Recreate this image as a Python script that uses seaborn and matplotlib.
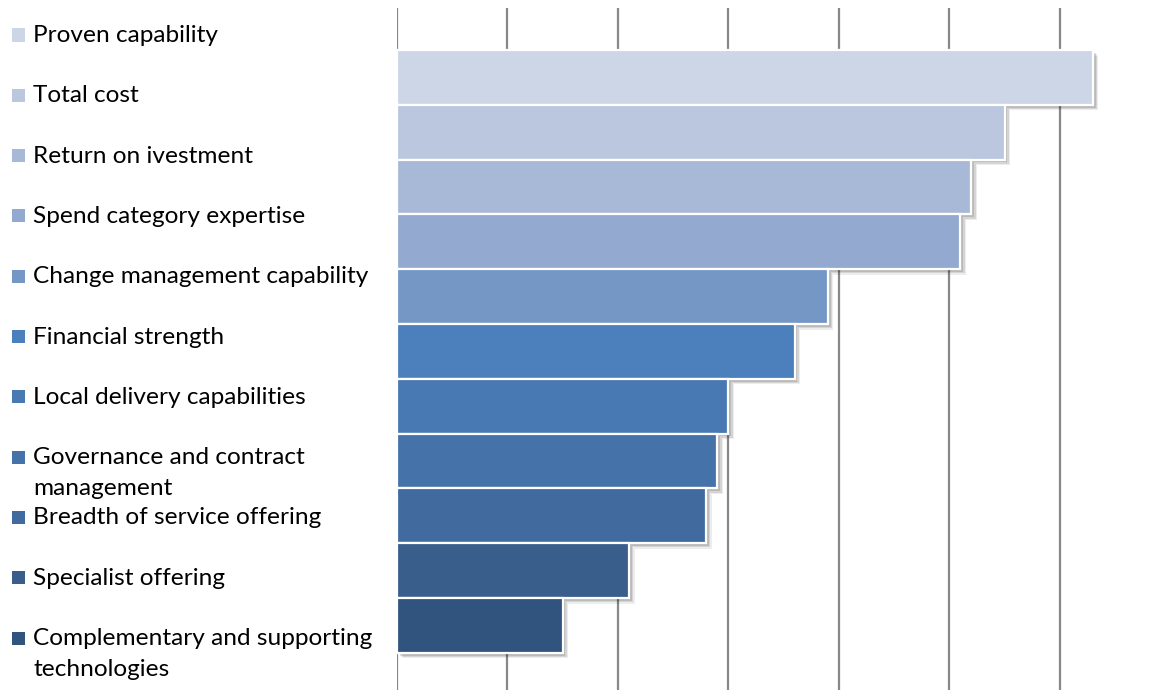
import matplotlib
matplotlib.use("Agg")
import matplotlib.pyplot as plt
import matplotlib.patheffects as pe
from matplotlib.patches import Rectangle
import seaborn as sns
import pandas as pd

categories = [
    "Proven capability",
    "Total cost",
    "Return on ivestment",
    "Spend category expertise",
    "Change management capability",
    "Financial strength",
    "Local delivery capabilities",
    "Governance and contract\nmanagement",
    "Breadth of service offering",
    "Specialist offering",
    "Complementary and supporting\ntechnologies",
]
values = [63, 55, 52, 51, 39, 36, 30, 29, 28, 21, 15]
colors = [
    "#CDD6E7", "#BAC7DF", "#A8B9D7", "#93A9CF", "#7597C5", "#4B80BC",
    "#4879B2", "#4573A9", "#416B9E", "#3A5E8C", "#30547D",
]
grid_ticks = [0, 10, 20, 30, 40, 50, 60]

df = pd.DataFrame({"category": categories, "value": values})

W, H = 1164, 690
sns.set_theme(style="white")
plt.rcParams["font.family"] = ["Lato", "DejaVu Sans"]

fig = plt.figure(figsize=(W / 100, H / 100), dpi=100)
ax_left, ax_right, ax_top, ax_bottom = 397, 1115, 8, 690
ax = fig.add_axes([ax_left / W, 1 - ax_bottom / H,
                   (ax_right - ax_left) / W, (ax_bottom - ax_top) / H])

sns.barplot(data=df, x="value", y="category", hue="category",
            palette=colors, order=categories, hue_order=categories,
            width=1.0, dodge=False, legend=False, saturation=1, ax=ax,
            edgecolor="white", linewidth=1.6, zorder=3)

# soft drop shadow below and to the right of each bar
for patch in ax.patches:
    patch.set_path_effects([
        pe.SimplePatchShadow(offset=(4, -4), alpha=0.07, shadow_rgbFace="#000000"),
        pe.SimplePatchShadow(offset=(3, -3), alpha=0.10, shadow_rgbFace="#000000"),
        pe.SimplePatchShadow(offset=(2, -2), alpha=0.12, shadow_rgbFace="#000000"),
        pe.Normal(),
    ])

ax.set_xlim(0, 65)
slot = 54.8
top_lim = -0.5 - (50 - ax_top) / slot
ax.set_ylim(top_lim + (ax_bottom - ax_top) / slot, top_lim)

for t in grid_ticks:
    ax.axvline(t, color="#888888", linewidth=1.6, zorder=1)

ax.set_xticks([])
ax.set_yticks([])
ax.set_xlabel("")
ax.set_ylabel("")
for s in ax.spines.values():
    s.set_visible(False)

# Legend column on the left: one evenly spaced row per category
row0, row_step, line_step = 35.5, 60.3, 31
for i, (label, col) in enumerate(zip(categories, colors)):
    yc = row0 + i * row_step
    fig.patches.append(Rectangle((12 / W, 1 - (yc + 6) / H), 13 / W, 13 / H,
                                 transform=fig.transFigure, facecolor=col,
                                 edgecolor="none"))
    for j, line in enumerate(label.split("\n")):
        fig.text(33 / W, 1 - (yc + j * line_step) / H, line,
                 fontsize=17.6, color="#000000", ha="left", va="center")

fig.savefig("out.png", dpi=100)
